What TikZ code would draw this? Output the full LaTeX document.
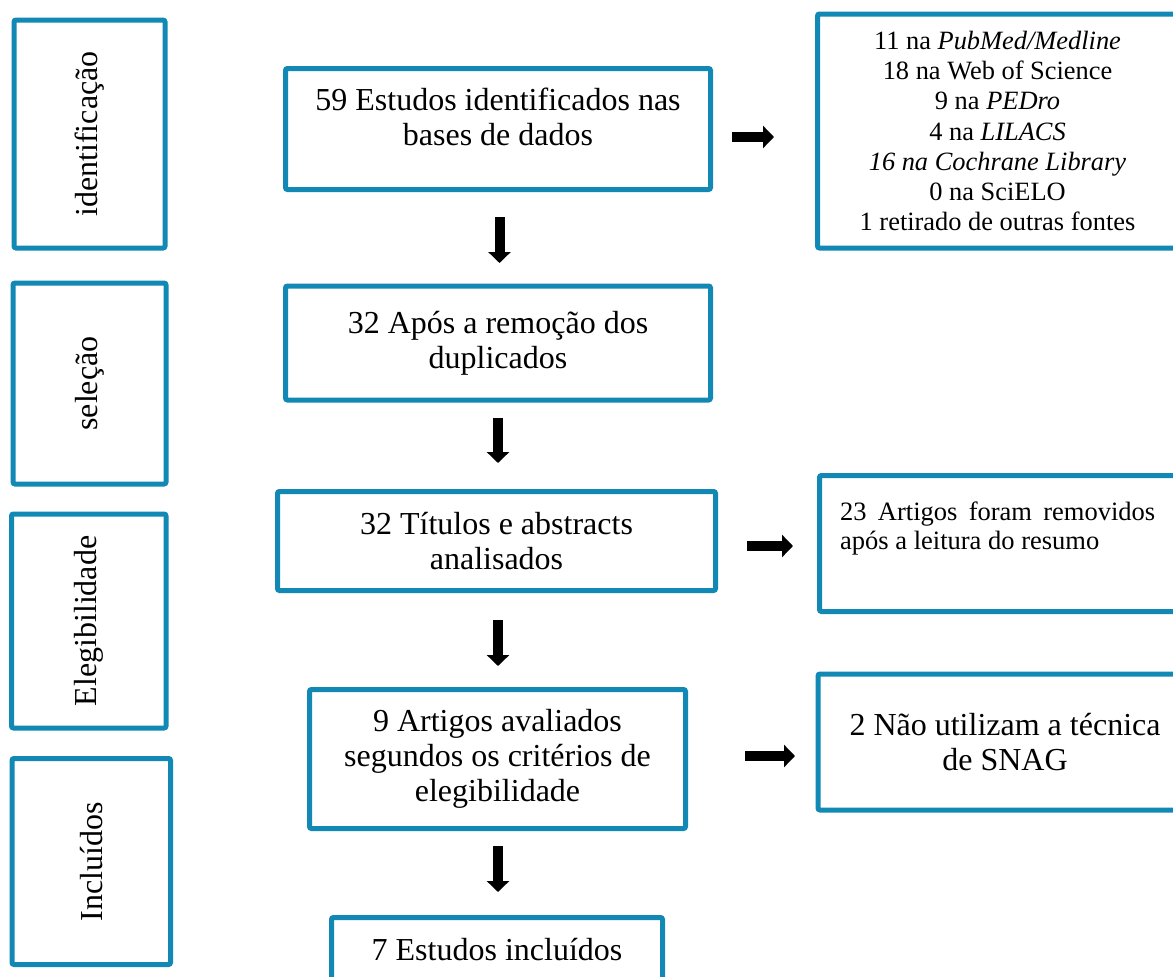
\documentclass[tikz,border=0pt]{standalone}
\usepackage{fontspec}
\setmainfont{Liberation Serif}
\usetikzlibrary{arrows.meta,positioning}
\definecolor{prismablue}{RGB}{18,137,180}
\pretolerance=9999
\tolerance=9999

\begin{document}
\begin{tikzpicture}[
        x=1pt, y=-1pt,
        font=\fontsize{32}{35}\selectfont,
        % Block styles
        phase/.style={
            rectangle,
            draw=prismablue,
            line width=5pt,
            rounded corners=2pt
        },
        phaselabel/.style={
            rotate=90,
            inner sep=0pt
        },
        stepbox/.style={
            rectangle,
            draw=prismablue,
            line width=5pt,
            rounded corners=2pt,
            align=center
        },
        sidetext/.style={
            font=\fontsize{26.4}{30.2}\selectfont,
            align=center,
            inner sep=0pt
        },
        blockarrow/.style={
            line width=10pt,
            -{Triangle[length=11pt, width=22pt]}
        }
    ]

    \useasboundingbox (0,0) rectangle (1173,977);
    \clip (0,0) rectangle (1173,977);

    % Phases
    \node[phase, minimum width=151pt, minimum height=228pt] (ident) at (89.5,134) {};
    \node[phaselabel] (identlab) at (ident.center) {identificação};
    \node[phase, minimum width=153pt, minimum height=201pt] (selec) at (89.5,383.5) {};
    \node[phaselabel] (seleclab) at (selec.center) {seleção};
    \node[phase, minimum width=154.5pt, minimum height=214pt] (eleg) at (88.75,621) {};
    \node[phaselabel] (eleglab) at (eleg.center) {Elegibilidade};
    \node[phase, minimum width=158.5pt, minimum height=206pt] (incl) at (91.25,861.5) {};
    \node[phaselabel] (incllab) at (incl.center) {Incluídos};

    % Main flow
    \node[stepbox, minimum width=425pt, minimum height=121pt] (found) at (498,129) {};
    \node[align=center, inner sep=0pt] (foundlab) at (498,116.5) {59 Estudos identificados nas\\bases de dados};
    \node[stepbox, minimum width=425pt, minimum height=114pt] (dedup) at (498,343) {32 Após a remoção dos\\duplicados};
    \node[stepbox, minimum width=438pt, minimum height=99pt] (screen) at (496.5,541) {32 Títulos e abstracts\\analisados};
    \node[stepbox, minimum width=376pt, minimum height=139pt] (full) at (497.5,759) {9 Artigos avaliados\\segundos os critérios de\\elegibilidade};
    \node[stepbox, minimum width=331pt, minimum height=64pt] (final) at (497,949.5) {7 Estudos incluídos};

    % Side boxes
    \node[stepbox, minimum width=360pt, minimum height=234pt] (sources) at (997.5,131) {};
    \node[sidetext] (sourcelab) at (sources.center) {11 na \textit{PubMed/Medline}\\18 na Web of Science\\9 na \textit{PEDro}\\4 na \textit{LILACS}\\\textit{16 na Cochrane Library}\\0 na SciELO\\1 retirado de outras fontes};
    \node[stepbox, minimum width=358pt, minimum height=136pt] (removed) at (998.5,543.5) {};
    \node[font=\fontsize{26.5}{29}\selectfont, text width=315pt, align=justify, inner sep=0pt, anchor=north west] (removedlab) at (840,502) {23 Artigos foram removidos após a leitura do resumo};
    \node[stepbox, minimum width=374pt, minimum height=136pt] (nosnag) at (1005,742) {2 Não utilizam a técnica\\de SNAG};

    % Arrows
    \coordinate (d1a) at (499.5,217);  \coordinate (d1b) at (499.5,263);
    \coordinate (d2a) at (498,418);    \coordinate (d2b) at (498,463);
    \coordinate (d3a) at (498,620);    \coordinate (d3b) at (498,666);
    \coordinate (d4a) at (498,846);    \coordinate (d4b) at (498,892);
    \coordinate (r1a) at (732,137);    \coordinate (r1b) at (774,137);
    \coordinate (r2a) at (747,546);    \coordinate (r2b) at (793,546);
    \coordinate (r3a) at (745,756);    \coordinate (r3b) at (795,756);

    \draw[blockarrow] (d1a) -- (d1b);
    \draw[blockarrow] (d2a) -- (d2b);
    \draw[blockarrow] (d3a) -- (d3b);
    \draw[blockarrow] (d4a) -- (d4b);
    \draw[blockarrow] (r1a) -- (r1b);
    \draw[blockarrow] (r2a) -- (r2b);
    \draw[blockarrow] (r3a) -- (r3b);

\end{tikzpicture}
\end{document}
